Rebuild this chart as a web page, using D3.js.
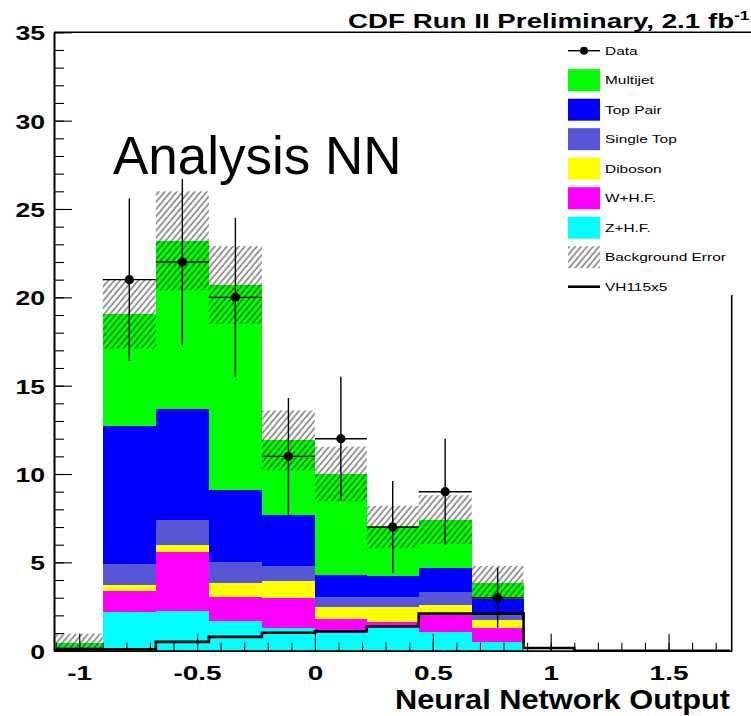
<!DOCTYPE html>
<html><head><meta charset="utf-8">
<script src="https://cdn.jsdelivr.net/npm/d3@7"></script>
<style>body{margin:0;background:#fff}svg{display:block}</style>
</head><body>
<svg id="c" width="751" height="716"></svg>
<script>
// ---------- data ----------
const binEdges   = [-1.1,-0.9,-0.675,-0.45,-0.225,0,0.22,0.44,0.665,0.885,1.1,1.32,1.54,1.76];
const zhf        = [0.02,2.20,2.27,1.70,1.27,1.00,1.30,1.05,0.50,0,0,0,0];
const whf        = [0.15,1.20,3.33,1.36,1.70,0.82,0.34,0.95,0.80,0,0,0,0];
const diboson    = [0.00,0.30,0.40,0.76,0.98,0.66,0.84,0.57,0.44,0,0,0,0];
const singleTop  = [0.02,1.20,1.40,1.18,0.87,0.57,0.57,0.73,0.31,0,0,0,0];
const topPair    = [0.03,7.80,6.30,4.10,2.88,1.25,1.20,1.40,0.90,0,0,0,0];
const multijet   = [0.20,6.35,9.50,11.6,4.20,5.70,2.75,2.72,0.90,0,0,0,0];
const bgErr      = [0.55,1.95,2.80,2.20,1.70,1.55,1.20,1.38,0.95,0,0,0,0];
const dataVals   = [null,21,22,20,11,12,7,9,3,null,null,null,null];
const dataErr    = [0,4.6,4.7,4.5,3.3,3.5,2.6,3.0,1.7,0,0,0,0];
const signal     = [0.08,0.08,0.50,0.78,1.02,1.10,1.38,2.10,2.10,0.15,0,0,0];
const seriesNames  = ["Z+H.F.","W+H.F.","Diboson","Single Top","Top Pair","Multijet"];
const seriesColors = ["#00ffff","#ff00ff","#ffff00","#5656d6","#0000ff","#00ff00"];
const legendNames  = ["Data","Multijet","Top Pair","Single Top","Diboson","W+H.F.","Z+H.F.","Background Error","VH115x5"];
const xMajor = [-1,-0.5,0,0.5,1,1.5];
const xMinor = d3.range(-11,18).map(d=>d/10);
const yMajor = [0,5,10,15,20,25,30,35];
const yMinor = d3.range(0,36);

// ---------- setup ----------
const svg = d3.select("#c");
const FONT = "'Liberation Sans', Arial, Helvetica, sans-serif";
const x = d3.scaleLinear().domain([-1.107,1.768]).range([54,731.7]);
const y = d3.scaleLinear().domain([0,35]).range([650.7,32.3]);
const K = 1.33;
function stretch(sel,k){sel.each(function(){const w=this.getComputedTextLength();d3.select(this).attr("textLength",w*k).attr("lengthAdjust","spacingAndGlyphs");});}

svg.append("rect").attr("width",751).attr("height",716).attr("fill","#fff");

const defs = svg.append("defs");
const pat = defs.append("pattern").attr("id","hatch").attr("patternUnits","userSpaceOnUse")
  .attr("width",4.6).attr("height",4.6).attr("patternTransform","rotate(40)");
pat.append("line").attr("x1",1).attr("y1",0).attr("x2",1).attr("y2",4.6).attr("stroke","#222").attr("stroke-width",0.9);

// ---------- stack ----------
const bins = binEdges.slice(0,-1).map((e,i)=>({i,x0:e,x1:binEdges[i+1],
  "Z+H.F.":zhf[i],"W+H.F.":whf[i],"Diboson":diboson[i],"Single Top":singleTop[i],"Top Pair":topPair[i],"Multijet":multijet[i]}));
const stacked = d3.stack().keys(seriesNames)(bins);
const gStack = svg.append("g");
stacked.forEach((layer,li)=>{
  gStack.selectAll(null).data(layer.filter(d=>d[1]-d[0]>0)).enter().append("rect")
    .attr("x",d=>x(d.data.x0)).attr("width",d=>x(d.data.x1)-x(d.data.x0))
    .attr("y",d=>y(d[1])).attr("height",d=>y(d[0])-y(d[1]))
    .attr("fill",seriesColors[li]).attr("shape-rendering","crispEdges");
});
const totals = stacked[stacked.length-1].map(d=>d[1]);

// ---------- error band ----------
svg.append("g").selectAll("rect").data(bins.filter(b=>bgErr[b.i]>0)).enter().append("rect")
  .attr("x",b=>x(b.x0)).attr("width",b=>x(b.x1)-x(b.x0))
  .attr("y",b=>y(totals[b.i]+bgErr[b.i]))
  .attr("height",b=>y(Math.max(0,totals[b.i]-bgErr[b.i]))-y(totals[b.i]+bgErr[b.i]))
  .attr("fill","url(#hatch)");

// ---------- signal ----------
const sigPts = [];
bins.forEach(b=>{sigPts.push([b.x0,signal[b.i]]);sigPts.push([b.x1,signal[b.i]]);});
svg.append("path").attr("d",d3.line().x(d=>x(d[0])).y(d=>y(d[1]))(sigPts))
  .attr("fill","none").attr("stroke","#000").attr("stroke-width",2.6);

// ---------- axes ----------
const axG = svg.append("g").attr("font-family",FONT);
const xAxisMinor = axG.append("g").attr("transform","translate(0,650.7)")
  .call(d3.axisBottom(x).tickValues(xMinor).tickSize(-8).tickSizeOuter(0).tickFormat(""));
const xAxisMajor = axG.append("g").attr("transform","translate(0,650.7)")
  .call(d3.axisBottom(x).tickValues(xMajor).tickSize(-17).tickSizeOuter(0).tickPadding(14.5).tickFormat(d=>String(d)));
const yAxisMinor = axG.append("g").attr("transform","translate(54,0)")
  .call(d3.axisLeft(y).tickValues(yMinor).tickSize(-10).tickSizeOuter(0).tickFormat(""));
const yAxisMajor = axG.append("g").attr("transform","translate(54,0)")
  .call(d3.axisLeft(y).tickValues(yMajor).tickSize(-18).tickSizeOuter(0).tickPadding(9).tickFormat(d=>String(d)));
axG.selectAll(".domain").attr("stroke","#000").attr("stroke-width",1.6);
axG.selectAll(".tick line").attr("stroke","#000").attr("stroke-width",1.1);
xAxisMajor.selectAll("text").attr("font-size",21).attr("font-weight","bold").attr("fill","#000");
yAxisMajor.selectAll("text").attr("font-size",20).attr("font-weight","bold").attr("fill","#000").attr("dy","0.37em");
stretch(xAxisMajor.selectAll("text"),K);
stretch(yAxisMajor.selectAll("text"),K);

// frame
svg.append("line").attr("x1",54).attr("x2",751).attr("y1",32.3).attr("y2",32.3).attr("stroke","#000").attr("stroke-width",1.6);
svg.append("line").attr("x1",731.7).attr("x2",731.7).attr("y1",295).attr("y2",650.7).attr("stroke","#000").attr("stroke-width",1.6);

// ---------- data ----------
const gData = svg.append("g");
const pts = bins.filter(b=>dataVals[b.i]!=null);
gData.selectAll(".eh").data(pts).enter().append("line")
  .attr("x1",b=>x(b.x0)).attr("x2",b=>x(b.x1)).attr("y1",b=>y(dataVals[b.i])).attr("y2",b=>y(dataVals[b.i]))
  .attr("stroke","#000").attr("stroke-width",1.4);
gData.selectAll(".ev").data(pts).enter().append("line")
  .attr("x1",b=>x((b.x0+b.x1)/2)).attr("x2",b=>x((b.x0+b.x1)/2))
  .attr("y1",b=>y(dataVals[b.i]+dataErr[b.i])).attr("y2",b=>y(dataVals[b.i]-dataErr[b.i]))
  .attr("stroke","#000").attr("stroke-width",1.4);
gData.selectAll("circle").data(pts).enter().append("circle")
  .attr("cx",b=>x((b.x0+b.x1)/2)).attr("cy",b=>y(dataVals[b.i])).attr("r",4.6).attr("fill","#000");

// ---------- title ----------
const title = svg.append("text").attr("x",348).attr("y",28).attr("font-family",FONT)
  .attr("font-size",21).attr("font-weight","bold").attr("fill","#000");
title.append("tspan").text("CDF Run II Preliminary, 2.1 fb");
title.append("tspan").attr("font-size",13).attr("dy",-8).text("-1");
stretch(title,1.32);

svg.append("text").attr("x",113).attr("y",173.5).attr("font-family",FONT).attr("font-size",53)
  .attr("fill","#000").text("Analysis NN");

const xt = svg.append("text").attr("x",730).attr("y",709).attr("text-anchor","end").attr("font-family",FONT)
  .attr("font-size",28).attr("font-weight","bold").attr("fill","#000").text("Neural Network Output");
xt.attr("textLength",335).attr("lengthAdjust","spacingAndGlyphs");

// ---------- legend ----------
const lg = svg.append("g").attr("font-family",FONT);
const lx0 = 568, lw = 32, ly0 = 50.7, lstep = 29.5;
legendNames.forEach((name,i)=>{
  const cy = ly0 + i*lstep;
  if(name==="Data"){
    lg.append("line").attr("x1",lx0).attr("x2",lx0+lw).attr("y1",cy).attr("y2",cy).attr("stroke","#000").attr("stroke-width",1.4);
    lg.append("circle").attr("cx",lx0+lw/2).attr("cy",cy).attr("r",4).attr("fill","#000");
  } else if(name==="VH115x5"){
    lg.append("line").attr("x1",lx0).attr("x2",lx0+lw).attr("y1",cy).attr("y2",cy).attr("stroke","#000").attr("stroke-width",2.6);
  } else if(name==="Background Error"){
    lg.append("rect").attr("x",lx0).attr("y",cy-11).attr("width",lw).attr("height",22).attr("fill","url(#hatch)");
  } else {
    const si = seriesNames.indexOf(name);
    lg.append("rect").attr("x",lx0).attr("y",cy-11).attr("width",lw).attr("height",22).attr("fill",seriesColors[si]);
  }
  const t = lg.append("text").attr("x",605).attr("y",cy+4.2).attr("font-size",11.6).attr("fill","#000").text(name);
  stretch(t,K);
});
</script>
</body></html>
